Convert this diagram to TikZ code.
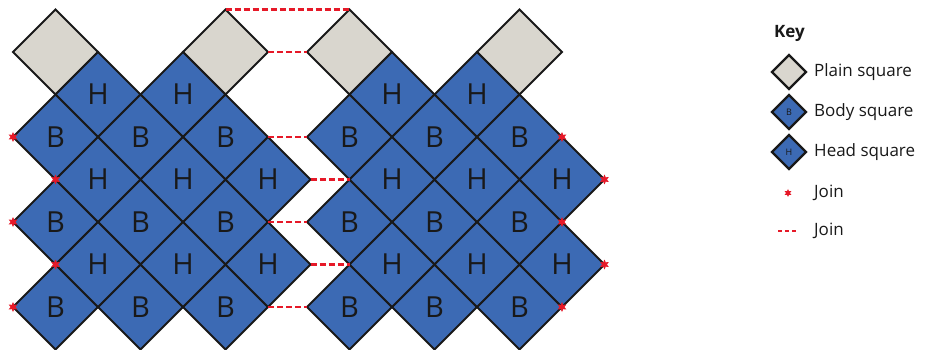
\documentclass[tikz,border=0pt]{standalone}
\usepackage{fontspec}
\setmainfont{Open Sans}
\usetikzlibrary{shapes.geometric}
\definecolor{sqblue}{RGB}{60,106,180}
\definecolor{sqgray}{RGB}{217,214,206}
\definecolor{joinred}{RGB}{230,25,40}
\begin{document}
\begin{tikzpicture}[x=1pt,y=-1pt,
  sq/.style={shape=diamond, draw=black!90, line width=2pt, minimum width=85pt, minimum height=85pt,
    inner sep=0pt, outer sep=0pt, text=black!90, font=\fontsize{29}{29}\selectfont},
  plain/.style={sq, fill=sqgray},
  body/.style={sq, fill=sqblue},
  keysq/.style={minimum width=34pt, minimum height=34pt, line width=2.4pt, font=\fontsize{9}{9}\selectfont},
  joinstar/.style={shape=star, star points=6, star point ratio=2.0, fill=joinred, draw=none,
    minimum size=10pt, inner sep=0pt},
  joindash/.style={draw=joinred, line width=2.6pt, dash pattern=on 6pt off 3pt},
  keytext/.style={anchor=west, inner sep=0pt, font=\fontsize{17}{17}\selectfont, text=black!90}
]
\useasboundingbox (0,0) rectangle (927,350);

% ---- left group ----
\node[plain] (LP1) at (55.5,52) {};
\node[plain] (LP2) at (225.5,52) {};
\node[body] (LH01) at (98,94.5) {H};
\node[body] (LH02) at (183,94.5) {H};
\foreach \r/\y in {1/137,2/222,3/307}{
  \foreach \c/\x in {1/55.5,2/140.5,3/225.5}{
    \node[body] (LB\r\c) at (\x,\y) {B};
  }
}
\foreach \r/\y in {1/179.5,2/264.5}{
  \foreach \c/\x in {1/98,2/183,3/268}{
    \node[body] (LH\r\c) at (\x,\y) {H};
  }
}

% ---- right group ----
\node[plain] (RP1) at (349.5,52) {};
\node[plain] (RP2) at (519.5,52) {};
\node[body] (RH01) at (392,94.5) {H};
\node[body] (RH02) at (477,94.5) {H};
\foreach \r/\y in {1/137,2/222,3/307}{
  \foreach \c/\x in {1/349.5,2/434.5,3/519.5}{
    \node[body] (RB\r\c) at (\x,\y) {B};
  }
}
\foreach \r/\y in {1/179.5,2/264.5}{
  \foreach \c/\x in {1/392,2/477,3/562}{
    \node[body] (RH\r\c) at (\x,\y) {H};
  }
}

% ---- dashed joins ----
\draw[joindash] (LP2.north) -- (RP1.north);
\draw[joindash] (LP2.east) -- (RP1.west);
\draw[joindash] (LB13.east) -- (RB11.west);
\draw[joindash] (LH13.east) -- (RB11.south);
\draw[joindash] (LB23.east) -- (RB21.west);
\draw[joindash] (LH23.east) -- (RB21.south);
\draw[joindash] (LB33.east) -- (RB31.west);

% ---- star joins ----
\node[joinstar] (jl1) at (LB11.west) {};
\node[joinstar] (jl2) at (LB21.west) {};
\node[joinstar] (jl3) at (LB31.west) {};
\node[joinstar] (jl4) at (LH11.west) {};
\node[joinstar] (jl5) at (LH21.west) {};
\node[joinstar] (jr1) at (RB13.east) {};
\node[joinstar] (jr2) at (RB23.east) {};
\node[joinstar] (jr3) at (RB33.east) {};
\node[joinstar] (jr4) at (RH13.east) {};
\node[joinstar] (jr5) at (RH23.east) {};

% ---- key ----
\node[keytext, font=\bfseries\fontsize{17}{17}\selectfont] (key) at (774,33) {Key};
\node[plain, keysq] (kp) at (789,72) {};
\node[body, keysq] (kb) at (789,112) {B};
\node[body, keysq] (kh) at (789,152) {H};
\node[joinstar, minimum size=8pt] (ks) at (788,193) {};
\coordinate (kd1) at (778,231);
\coordinate (kd2) at (798,231);
\draw[joindash, line width=2.2pt, dash pattern=on 4pt off 3pt] (kd1) -- (kd2);
\node[keytext] (tp) at (814,72) {Plain square};
\node[keytext] (tb) at (814,112) {Body square};
\node[keytext] (th) at (814,152) {Head square};
\node[keytext] (ts) at (814,193) {Join};
\node[keytext] (td) at (814,231) {Join};
\end{tikzpicture}
\end{document}
